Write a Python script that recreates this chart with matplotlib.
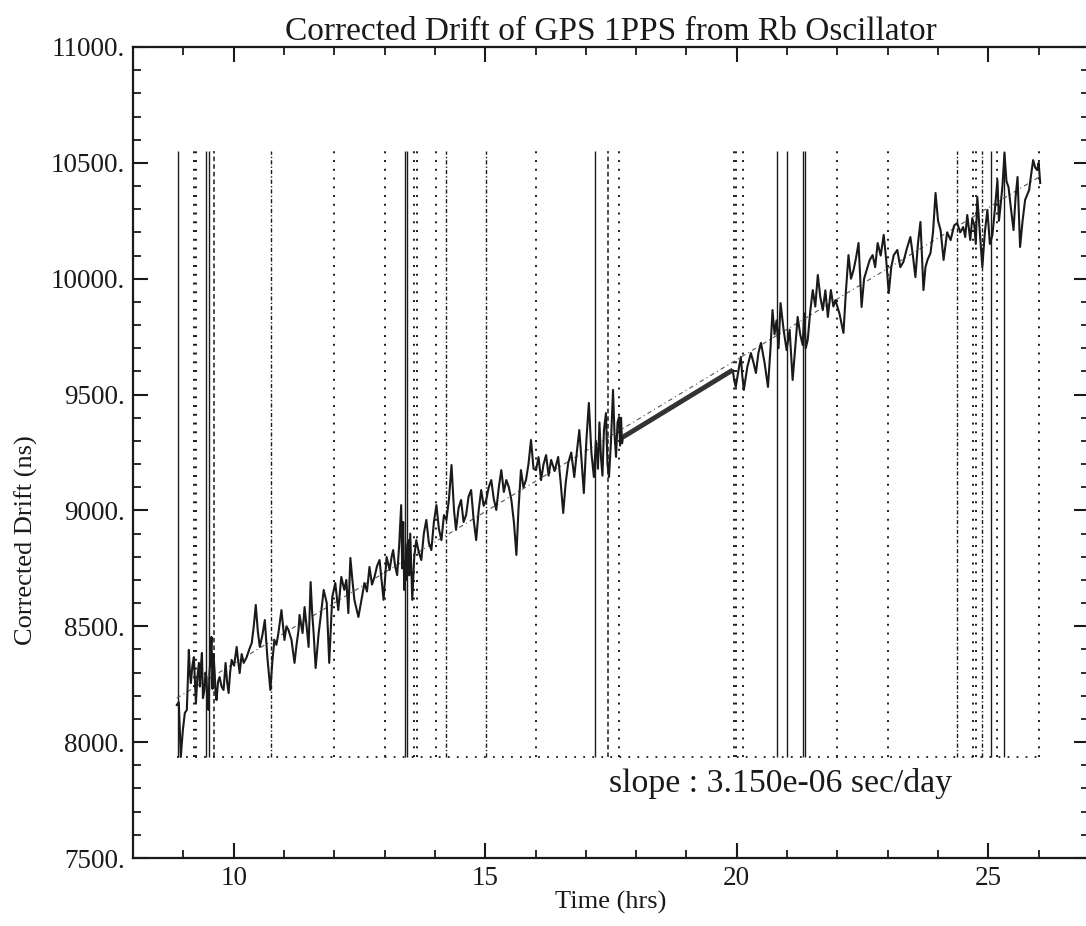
import matplotlib
matplotlib.use("Agg")
import matplotlib.pyplot as plt
from matplotlib.ticker import MultipleLocator, FixedLocator

plt.rcParams['font.family'] = ['Liberation Serif', 'DejaVu Serif']

# ---- data: (time hrs, corrected drift ns) ----
seg_early = [
    (8.87, 8160), (8.91, 8173), (8.95, 7936), (8.99, 8050), (9.03, 8126), (9.07, 8139),
    (9.11, 8398), (9.13, 8300), (9.15, 8255), (9.18, 8330), (9.21, 8367), (9.25, 8169),
    (9.28, 8280), (9.31, 8342), (9.33, 8240), (9.35, 8330), (9.37, 8385), (9.39, 8190),
    (9.42, 8225), (9.44, 8300), (9.46, 8281), (9.48, 8170), (9.50, 8139), (9.52, 8300),
    (9.54, 8360), (9.56, 8454), (9.58, 8230), (9.60, 8380), (9.62, 8311), (9.64, 8220),
    (9.66, 8182), (9.69, 8260), (9.72, 8281), (9.76, 8240), (9.80, 8225), (9.84, 8342),
    (9.87, 8260), (9.90, 8212), (9.93, 8300), (9.96, 8355),
]
seg_middle = [
    (10.01, 8330), (10.06, 8411), (10.09, 8350), (10.12, 8298), (10.16, 8380), (10.20, 8342),
    (10.26, 8367), (10.31, 8400), (10.36, 8428), (10.40, 8500), (10.44, 8592), (10.48, 8480),
    (10.52, 8411), (10.57, 8460), (10.62, 8527), (10.67, 8367), (10.73, 8225), (10.77, 8350),
    (10.81, 8441), (10.85, 8420), (10.89, 8471), (10.95, 8570), (11.01, 8441), (11.05, 8500),
    (11.09, 8484), (11.15, 8441), (11.21, 8342), (11.25, 8420), (11.29, 8484), (11.31, 8549),
    (11.37, 8471), (11.41, 8583), (11.45, 8500), (11.49, 8411), (11.53, 8691), (11.56, 8560),
    (11.59, 8471), (11.63, 8320), (11.69, 8471), (11.74, 8560), (11.79, 8657), (11.85, 8601),
    (11.90, 8342), (11.96, 8626), (12.02, 8687), (12.08, 8570), (12.14, 8713), (12.20, 8657),
    (12.24, 8700), (12.28, 8557), (12.32, 8795), (12.36, 8700), (12.40, 8614), (12.48, 8540),
    (12.54, 8614), (12.60, 8687), (12.65, 8650), (12.70, 8756), (12.75, 8680), (12.80, 8713),
    (12.85, 8760), (12.90, 8786), (12.94, 8700), (12.98, 8614), (13.04, 8799), (13.10, 8743),
    (13.14, 8800), (13.17, 8829), (13.21, 8760), (13.25, 8721), (13.29, 8850), (13.33, 9023),
    (13.35, 8750), (13.37, 8950), (13.39, 8657), (13.41, 8780), (13.43, 8700), (13.45, 8850),
    (13.47, 8872), (13.49, 8720), (13.51, 8900), (13.55, 8614), (13.59, 8800), (13.63, 8872),
    (13.68, 8820), (13.73, 8786), (13.78, 8900), (13.83, 8959), (13.88, 8860), (13.93, 8829),
    (13.98, 8950), (14.03, 9023), (14.08, 8920), (14.13, 8872), (14.18, 8980), (14.23, 8959),
    (14.28, 9050), (14.33, 9196), (14.38, 9000), (14.42, 8916), (14.47, 9010), (14.52, 9045),
    (14.57, 8950), (14.62, 8980), (14.67, 9060), (14.72, 9088), (14.77, 8960), (14.82, 8872),
    (14.87, 9000), (14.92, 9088), (14.97, 9020), (15.02, 9045), (15.07, 9100), (15.12, 9131),
    (15.17, 9050), (15.22, 9002), (15.27, 9100), (15.32, 9174), (15.37, 9080), (15.42, 9131),
    (15.47, 9100), (15.52, 9045), (15.57, 8950), (15.62, 8808), (15.66, 9000), (15.71, 9174),
    (15.76, 9100), (15.81, 9131), (15.86, 9200), (15.91, 9304), (15.96, 9180), (16.01, 9174),
    (16.06, 9230), (16.11, 9131), (16.16, 9200), (16.21, 9239), (16.26, 9150), (16.31, 9218),
    (16.38, 9170), (16.45, 9231), (16.50, 9120), (16.55, 8989), (16.60, 9120), (16.65, 9205),
    (16.71, 9250), (16.77, 9144), (16.82, 9250), (16.87, 9347), (16.92, 9200), (16.96, 9075),
    (17.01, 9300), (17.06, 9464), (17.11, 9250), (17.16, 9144), (17.20, 9300), (17.24, 9180),
    (17.27, 9380), (17.30, 9231), (17.33, 9150), (17.36, 9347), (17.40, 9420), (17.43, 9200),
    (17.46, 9144), (17.50, 9300), (17.54, 9520), (17.57, 9330), (17.60, 9231), (17.63, 9380),
    (17.66, 9403), (17.68, 9280), (17.70, 9400), (17.72, 9290), (17.74, 9317),
]
seg_late = [
    (19.92, 9606), (19.95, 9560), (19.98, 9533), (20.03, 9600), (20.08, 9662), (20.11, 9580),
    (20.14, 9520), (20.21, 9620), (20.28, 9679), (20.33, 9640), (20.38, 9593), (20.43, 9680),
    (20.48, 9723), (20.55, 9640), (20.62, 9533), (20.67, 9700), (20.71, 9865), (20.75, 9760),
    (20.79, 9820), (20.83, 9700), (20.87, 9895), (20.93, 9780), (20.99, 9692), (21.05, 9780),
    (21.11, 9563), (21.16, 9700), (21.21, 9835), (21.26, 9760), (21.31, 9714), (21.34, 9850),
    (21.37, 9700), (21.41, 9736), (21.46, 9860), (21.51, 9951), (21.56, 9880), (21.61, 10016),
    (21.66, 9920), (21.71, 9865), (21.76, 9950), (21.81, 9835), (21.87, 9951), (21.92, 9880),
    (21.96, 9908), (22.04, 9850), (22.12, 9766), (22.17, 9950), (22.22, 10102), (22.27, 10000),
    (22.32, 10037), (22.37, 10090), (22.42, 10154), (22.48, 9878), (22.53, 10000), (22.58, 10037),
    (22.64, 10080), (22.70, 10102), (22.75, 10050), (22.80, 10154), (22.86, 10100), (22.92, 10189),
    (22.97, 10080), (23.02, 9938), (23.07, 10050), (23.12, 10102), (23.19, 10124), (23.25, 10050),
    (23.31, 10072), (23.38, 10130), (23.45, 10180), (23.50, 10100), (23.55, 10007), (23.60, 10150),
    (23.65, 10245), (23.71, 9951), (23.75, 10050), (23.79, 10081), (23.85, 10111), (23.90, 10200),
    (23.95, 10370), (24.00, 10250), (24.05, 10210), (24.11, 10081), (24.18, 10200), (24.25, 10167),
    (24.32, 10230), (24.38, 10240), (24.44, 10200), (24.50, 10223), (24.54, 10180), (24.58, 10275),
    (24.64, 10167), (24.68, 10260), (24.72, 10232), (24.75, 10150), (24.78, 10353), (24.83, 10200),
    (24.88, 10050), (24.93, 10200), (24.98, 10297), (25.03, 10150), (25.08, 10189), (25.13, 10300),
    (25.18, 10426), (25.21, 10250), (25.24, 10309), (25.28, 10400), (25.32, 10543), (25.36, 10420),
    (25.40, 10396), (25.45, 10300), (25.50, 10210), (25.54, 10350), (25.58, 10439), (25.63, 10137),
    (25.68, 10250), (25.73, 10340), (25.81, 10383), (25.85, 10450), (25.89, 10512), (25.93, 10480),
    (25.97, 10469), (26.00, 10500), (26.03, 10413),
]

gap_time = [17.74, 19.92]
gap_drift = [9317, 9606]

fit_time = [8.87, 26.03]
fit_drift = [8190, 10442]

marks_solid = [8.89, 9.46, 9.51, 13.41, 13.45, 17.18, 20.79, 20.99, 21.31, 21.36,
               25.06, 25.32]
marks_dotted = [9.21, 9.25, 12.00, 13.00, 13.59, 13.65, 14.03, 16.01, 17.66, 19.94, 19.98,
                20.12, 22.00, 23.00, 24.70, 24.76, 25.18, 26.01]
marks_dashed = [9.60, 17.44]
marks_dashdot = [10.75, 14.23, 15.02, 24.37, 24.88]
mark_low, mark_high = 7935, 10550
base_span = [8.87, 26.01]

x_major = [10, 15, 20, 25]
y_major = [7500, 8000, 8500, 9000, 9500, 10000, 10500, 11000]
y_labels = ["7500.", "8000.", "8500.", "9000.", "9500.", "10000.", "10500.", "11000."]

title = "Corrected Drift of GPS 1PPS from Rb Oscillator"
slope_text = "slope : 3.150e-06 sec/day"

all_pts = seg_early + seg_middle + seg_late
time_hrs = [p[0] for p in all_pts]
drift_ns = [p[1] for p in all_pts]

# ---- figure ----
fig = plt.figure(figsize=(10.86, 9.26), dpi=100)
ax = fig.add_axes([133/1086, 1 - 858/926, (1089 - 133)/1086, (858 - 47)/926])
ax.set_xlim(8, 27)
ax.set_ylim(7500, 11000)

ink = '#1a1a1a'
ax.vlines(marks_solid, mark_low, mark_high, colors=ink, linewidth=1.0, linestyles='solid')
ax.vlines(marks_dotted, mark_low, mark_high, colors=ink, linewidth=1.4, linestyles=[(0, (1, 3.5))])
ax.vlines(marks_dashed, mark_low, mark_high, colors=ink, linewidth=1.1, linestyles=[(0, (3, 2))])
ax.vlines(marks_dashdot, mark_low, mark_high, colors=ink, linewidth=1.0, linestyles=[(0, (3, 1.5, 1, 1.5))])
ax.hlines([mark_low], base_span[0], base_span[1], colors=ink, linewidth=1.3, linestyles=[(0, (1, 4))])

ax.plot(fit_time, fit_drift, color='#555555', linewidth=0.8, linestyle=(0, (4, 3, 1, 3)))
ax.plot(time_hrs, drift_ns, color=ink, linewidth=1.5)
ax.plot(gap_time, gap_drift, color='#333333', linewidth=3.5, solid_capstyle='butt')

ax.xaxis.set_major_locator(FixedLocator(x_major))
ax.xaxis.set_minor_locator(MultipleLocator(1))
ax.set_yticks(y_major)
ax.set_yticklabels(y_labels)
ax.yaxis.set_minor_locator(MultipleLocator(100))
ax.tick_params(which='both', direction='in', top=True, right=True, colors=ink, labelsize=19.5)
ax.tick_params(which='major', length=11, width=1.5, pad=6)
ax.tick_params(which='minor', length=5.5, width=1.3)
for s in ax.spines.values():
    s.set_linewidth(1.6)
    s.set_color(ink)

ax.set_title(title, fontsize=24, pad=5, color=ink)
ax.set_xlabel("Time (hrs)", fontsize=19, color=ink, labelpad=0)
ax.set_ylabel("Corrected Drift (ns)", fontsize=19, color=ink)
ax.yaxis.set_label_coords(-0.099, 0.392)
ax.text(0.498, 0.0814, slope_text, transform=ax.transAxes, fontsize=24.3, color=ink,
        ha='left', va='baseline')

fig.savefig("out.png", dpi=100)
